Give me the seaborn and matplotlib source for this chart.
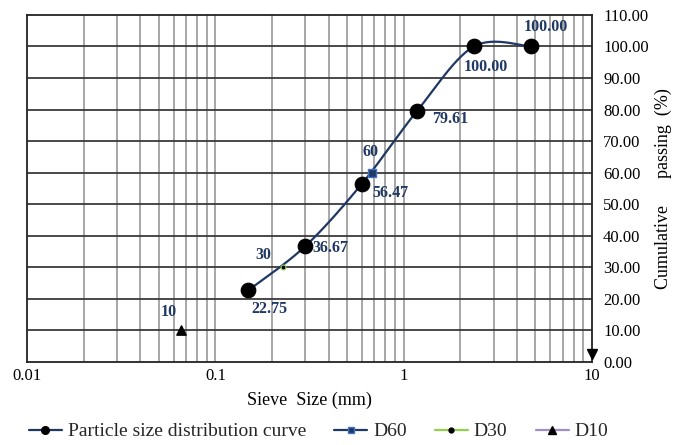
import numpy as np
import pandas as pd
import matplotlib
matplotlib.use("Agg")
import matplotlib.pyplot as plt
from matplotlib.lines import Line2D
import seaborn as sns

# ---- data ----
sieve_mm = [0.15, 0.3, 0.6, 1.18, 2.36, 4.75]
passing = [22.75, 36.67, 56.47, 79.61, 100.00, 100.00]
d_labels = ["60", "30", "10"]
d_size = [0.68, 0.23, 0.066]
d_pass = [60, 30, 10]
x_ticks = [0.01, 0.1, 1, 10]
x_tick_labels = ["0.01", "0.1", "1", "10"]
y_ticks = list(range(0, 111, 10))

sns.set_theme(style="white")
plt.rcParams['font.family'] = ['Liberation Serif', 'DejaVu Serif']

NAVY = "#1F3864"

fig = plt.figure(figsize=(6.75, 4.45), dpi=100)
ax = fig.add_axes([0.040, 0.1865, 0.837, 0.78])


# smooth curve (Excel-like Catmull-Rom Bezier in log-x space)
def smooth(xs, ys, n=60):
    P = np.column_stack([np.log10(xs), ys])
    out = []
    for i in range(len(P) - 1):
        p0 = P[i - 1] if i > 0 else P[i]
        p1, p2 = P[i], P[i + 1]
        p3 = P[i + 2] if i + 2 < len(P) else P[i + 1]
        c1 = p1 + (p2 - p0) / 6.0
        c2 = p2 - (p3 - p1) / 6.0
        t = np.linspace(0, 1, n)[:, None]
        seg = ((1 - t) ** 3) * p1 + 3 * ((1 - t) ** 2) * t * c1 + 3 * (1 - t) * t ** 2 * c2 + t ** 3 * p2
        out.append(seg if i == 0 else seg[1:])
    S = np.vstack(out)
    return 10 ** S[:, 0], S[:, 1]


sx, sy = smooth(sieve_mm, passing)
curve = pd.DataFrame({"x": sx, "y": sy})
sns.lineplot(data=curve, x="x", y="y", sort=False, color=NAVY, lw=1.6, ax=ax, zorder=3)

pts = pd.DataFrame({"x": sieve_mm, "y": passing})
sns.scatterplot(data=pts, x="x", y="y", color="black", s=110, edgecolor="black", ax=ax, zorder=5)

# D points
ax.scatter([d_size[0]], [d_pass[0]], marker="s", s=40, color=NAVY, edgecolor="#4472C4", lw=1, zorder=6)
ax.scatter([d_size[1]], [d_pass[1]], marker="o", s=12, color="black", edgecolor="#92D050", lw=0.8, zorder=6)
ax.scatter([d_size[2]], [d_pass[2]], marker="^", s=45, color="black", zorder=6)

ax.set_xscale("log")
ax.set_xlim(0.01, 10)
ax.set_ylim(0, 110)

# grid
minor = [m * 10.0 ** e for e in (-2, -1, 0) for m in range(2, 10)]
for v in minor + [0.1, 1]:
    ax.axvline(v, color="#A0A0A0", lw=1.3, zorder=1)
for v in y_ticks[1:-1]:
    ax.axhline(v, color="#3A3A3A", lw=1.3, zorder=1)

ax.set_xticks(x_ticks)
ax.set_xticklabels(x_tick_labels)
ax.xaxis.set_minor_locator(matplotlib.ticker.NullLocator())
ax.yaxis.tick_right()
ax.yaxis.set_label_position("right")
ax.set_yticks(y_ticks)
ax.set_yticklabels([f"{v:.2f}" for v in y_ticks])
ax.tick_params(axis="both", length=0, labelsize=12, colors="black", pad=4)
ax.tick_params(axis="y", pad=8)

for s in ax.spines.values():
    s.set_color("#222222")
    s.set_linewidth(1.3)

ax.set_xlabel("Sieve  Size (mm)", fontsize=13, labelpad=6, color="black")
ax.set_ylabel("Cumulative      passing  (%)", fontsize=13, labelpad=4, color="black")

# arrow at the bottom of right axis
ax.plot([1], [0.022], marker="v", color="black", markersize=7, transform=ax.transAxes, clip_on=False, zorder=7)

# value labels
lab_kw = dict(textcoords="offset pixels", fontsize=11.5, fontweight="bold", color=NAVY, zorder=8)
offsets = [(21, -19, "center"), (7, -2, "left"), (11, -9, "left"), (15, -8, "left"), (12, -21, "center"), (15, 19, "center")]
for (x, y), (dx, dy, ha) in zip(zip(sieve_mm, passing), offsets):
    ax.annotate(f"{y:.2f}", (x, y), xytext=(dx, dy), ha=ha, va="center", **lab_kw)
d_off = [(-2, 21), (-20, 12), (-13, 18)]
for lab, x, y, (dx, dy) in zip(d_labels, d_size, d_pass, d_off):
    ax.annotate(lab, (x, y), xytext=(dx, dy), ha="center", va="center", **lab_kw)

handles = [
    Line2D([], [], color=NAVY, lw=1.6, marker="o", markersize=5.5, markerfacecolor="black", markeredgecolor="black"),
    Line2D([], [], color=NAVY, lw=1.6, marker="s", markersize=5, markerfacecolor=NAVY, markeredgecolor="#4472C4"),
    Line2D([], [], color="#92D050", lw=1.6, marker="o", markersize=3.5, markerfacecolor="black", markeredgecolor="black"),
    Line2D([], [], color="#9F8FC8", lw=1.6, marker="^", markersize=5.5, markerfacecolor="black", markeredgecolor="black"),
]
fig.legend(handles, ["Particle size distribution curve", "D60", "D30", "D10"], loc="center",
           bbox_to_anchor=(0.472, 0.03), ncol=4, frameon=False, fontsize=14,
           handlelength=1.7, handletextpad=0.3, columnspacing=1.45)

fig.savefig("out.png", dpi=100)
